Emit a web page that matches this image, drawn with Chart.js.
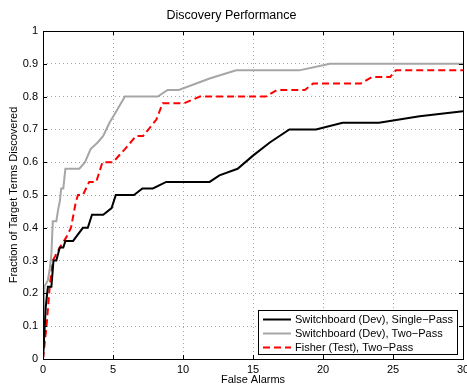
<!DOCTYPE html>
<html>
<head>
<meta charset="utf-8">
<script src="https://cdn.jsdelivr.net/npm/chart.js@4/dist/chart.umd.min.js"></script>
<style>
  html, body { margin: 0; padding: 0; background: #fff; }
  #wrap { width: 467px; height: 385px; }
</style>
</head>
<body>
<div id="wrap"><canvas id="chart" width="467" height="385"></canvas></div>
<script>
// ── Data ──────────────────────────────────────────────────────────────────
const xTicks = [0, 5, 10, 15, 20, 25, 30];
const yTicks = [0, 0.1, 0.2, 0.3, 0.4, 0.5, 0.6, 0.7, 0.8, 0.9, 1];

const singleX = [0, 0.2, 0.35, 0.6, 0.75, 0.95, 1.2, 1.45, 1.6, 2.15, 2.85, 3.2, 3.5, 4.3, 4.9, 5.2, 6.5, 7.1, 7.85, 8.8, 11.9, 12.6, 13.9, 15.0, 16.2, 17.6, 19.5, 21.4, 24.0, 26.9, 30];
const singleY = [0, 0.16, 0.22, 0.22, 0.30, 0.30, 0.34, 0.34, 0.36, 0.36, 0.40, 0.40, 0.44, 0.44, 0.46, 0.50, 0.50, 0.52, 0.52, 0.54, 0.54, 0.56, 0.58, 0.62, 0.66, 0.70, 0.70, 0.72, 0.72, 0.74, 0.755];

const twoPassX = [0, 0.1, 0.35, 0.5, 0.6, 0.7, 0.95, 1.1, 1.2, 1.3, 1.45, 1.6, 2.6, 3.0, 3.4, 3.9, 4.3, 4.75, 5.3, 5.85, 8.2, 8.9, 9.7, 11.9, 13.8, 18.3, 20.5, 30];
const twoPassY = [0, 0.22, 0.24, 0.28, 0.32, 0.42, 0.42, 0.46, 0.48, 0.52, 0.52, 0.58, 0.58, 0.60, 0.64, 0.66, 0.68, 0.72, 0.76, 0.80, 0.80, 0.82, 0.82, 0.855, 0.88, 0.88, 0.90, 0.90];

const fisherX = [0, 0.25, 0.5, 0.7, 1.2, 1.65, 2.0, 2.35, 2.5, 2.85, 3.3, 3.8, 4.25, 5.0, 5.85, 6.65, 7.15, 8.1, 8.55, 10.1, 11.2, 15.9, 16.7, 18.7, 19.3, 22.7, 23.5, 24.8, 25.2, 30];
const fisherY = [0, 0.10, 0.23, 0.30, 0.34, 0.37, 0.40, 0.48, 0.50, 0.50, 0.54, 0.54, 0.60, 0.60, 0.64, 0.68, 0.68, 0.73, 0.78, 0.78, 0.80, 0.80, 0.82, 0.82, 0.84, 0.84, 0.86, 0.86, 0.88, 0.88];

const seriesLabels = ['Switchboard (Dev), Single\u2212Pass', 'Switchboard (Dev), Two\u2212Pass', 'Fisher (Test), Two\u2212Pass'];

const FONT = '"Liberation Sans", Arial, Helvetica, sans-serif';

const toPoints = (xs, ys) => xs.map((x, i) => ({ x, y: ys[i] }));

// ── Frame, inner tick marks and legend (MATLAB look) ──────────────────────
const framePlugin = {
  id: 'frame',
  afterDraw(chart) {
    const { ctx, chartArea: a, scales: { x, y } } = chart;
    ctx.save();
    ctx.strokeStyle = '#000';
    ctx.lineWidth = 1;
    ctx.beginPath();
    xTicks.forEach(v => {
      const px = Math.round(x.getPixelForValue(v)) + 0.5;
      ctx.moveTo(px, a.bottom); ctx.lineTo(px, a.bottom - 4);
      ctx.moveTo(px, a.top);    ctx.lineTo(px, a.top + 4);
    });
    yTicks.forEach(v => {
      const py = Math.round(y.getPixelForValue(v)) + 0.5;
      ctx.moveTo(a.left, py);  ctx.lineTo(a.left + 4, py);
      ctx.moveTo(a.right, py); ctx.lineTo(a.right - 4, py);
    });
    ctx.stroke();
    ctx.strokeRect(Math.round(a.left) + 0.5, Math.round(a.top) + 0.5,
                   Math.round(a.right - a.left), Math.round(a.bottom - a.top));

    // legend box in the lower right corner
    const bx = 258, by = 310, bw = 199, bh = 44;
    ctx.fillStyle = '#fff';
    ctx.fillRect(bx, by, bw, bh);
    ctx.strokeRect(bx + 0.5, by + 0.5, bw, bh);
    ctx.font = '11px ' + FONT;
    ctx.textBaseline = 'middle';
    ctx.textAlign = 'left';
    chart.data.datasets.forEach((ds, i) => {
      const ly = by + 9.5 + i * 14;
      ctx.strokeStyle = ds.borderColor;
      ctx.lineWidth = ds.borderWidth;
      ctx.setLineDash(ds.borderDash || []);
      ctx.beginPath();
      ctx.moveTo(bx + 5, ly); ctx.lineTo(bx + 33, ly);
      ctx.stroke();
      ctx.setLineDash([]);
      ctx.fillStyle = '#000';
      ctx.fillText(ds.label, bx + 37, ly);
    });
    ctx.restore();
  }
};

// ── Chart ─────────────────────────────────────────────────────────────────
new Chart(document.getElementById('chart'), {
  type: 'scatter',
  data: {
    datasets: [
      { label: seriesLabels[0], data: toPoints(singleX, singleY),  borderColor: '#000',    borderWidth: 2 },
      { label: seriesLabels[1], data: toPoints(twoPassX, twoPassY), borderColor: '#a6a6a6', borderWidth: 2 },
      { label: seriesLabels[2], data: toPoints(fisherX, fisherY),  borderColor: '#ff0000', borderWidth: 2, borderDash: [7, 4] },
    ].map(d => ({ ...d, showLine: true, pointRadius: 0, fill: false, tension: 0 })),
  },
  options: {
    responsive: false, animation: false, devicePixelRatio: 1,
    layout: { padding: { top: 0, right: 4, bottom: 0, left: 0 } },
    plugins: {
      legend: { display: false },
      tooltip: { enabled: false },
      title: {
        display: true, text: 'Discovery Performance', color: '#000',
        font: { family: FONT, size: 12.5, weight: 'normal', lineHeight: 1.2 },
        padding: { top: 8, bottom: 8 },
      },
    },
    scales: {
      x: {
        type: 'linear', min: 0, max: 30,
        afterBuildTicks: s => { s.ticks = xTicks.map(v => ({ value: v })); },
        afterFit: s => { s.height = 26; s.paddingLeft = 0; s.paddingRight = 0; },
        grid: { color: '#a8a8a8', drawTicks: false },
        border: { display: false, dash: [1, 3] },
        ticks: { color: '#000', padding: 4, maxRotation: 0, font: { family: FONT, size: 11 } },
        title: { display: true, text: 'False Alarms', color: '#000', padding: 0,
                 font: { family: FONT, size: 11, lineHeight: 1 } },
      },
      y: {
        type: 'linear', min: 0, max: 1,
        afterBuildTicks: s => { s.ticks = yTicks.map(v => ({ value: v })); },
        afterFit: s => { s.width = 43; s.paddingTop = 0; s.paddingBottom = 0; },
        grid: { color: '#a8a8a8', drawTicks: false },
        border: { display: false, dash: [1, 3] },
        ticks: { color: '#000', padding: 5, font: { family: FONT, size: 11 },
                 callback: v => String(Math.round(v * 10) / 10) },
        title: { display: true, text: 'Fraction of Target Terms Discovered', color: '#000',
                 padding: { top: 7, bottom: 0 }, font: { family: FONT, size: 11, lineHeight: 1.2 } },
      },
    },
  },
  plugins: [framePlugin],
});
</script>
</body>
</html>
